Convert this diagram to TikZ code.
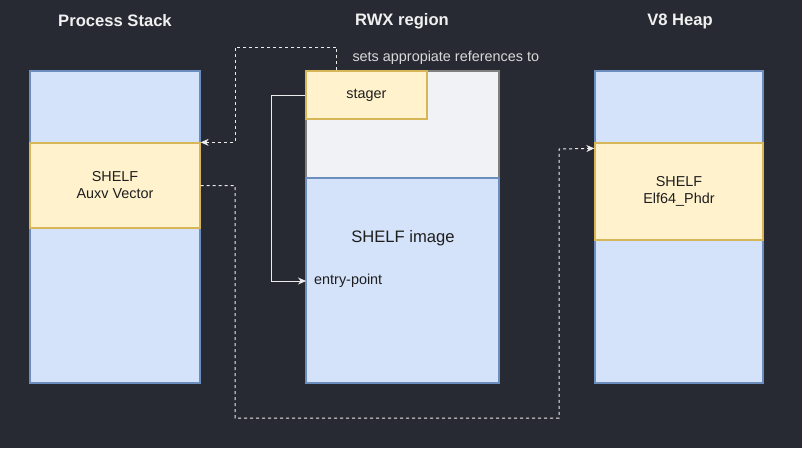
\documentclass[tikz,border=0pt]{standalone}
\usepackage{fontspec}
\setmainfont{Liberation Sans}
\usetikzlibrary{positioning,arrows.meta}
\definecolor{bg}{RGB}{39,42,51}
\definecolor{cellblue}{RGB}{212,227,249}
\definecolor{edgeblue}{RGB}{108,142,191}
\definecolor{cellyellow}{RGB}{255,242,204}
\definecolor{edgeyellow}{RGB}{214,182,86}
\definecolor{cellgrey}{RGB}{240,242,245}
\definecolor{edgegrey}{RGB}{128,128,128}
\definecolor{linkwhite}{RGB}{236,236,236}
\definecolor{inktext}{RGB}{30,30,30}
\tikzset{>={Stealth[length=8pt,width=7pt]},
  stackcell/.style={draw=edgeblue,fill=cellblue,line width=1.3pt,inner sep=0pt},
  rwxcell/.style={draw=edgegrey,fill=cellgrey,line width=1.3pt,inner sep=0pt},
  hdrcell/.style={draw=edgeyellow,fill=cellyellow,line width=1.3pt,inner sep=0pt,
    align=center,text=inktext,font=\fontsize{14.4}{17}\selectfont},
  boxtext/.style={text=inktext,font=\fontsize{14.4}{17}\selectfont},
  coltitle/.style={text=white!94!black,font=\fontsize{16.6}{19}\selectfont\bfseries},
  note/.style={text=white!85!black,font=\fontsize{14.4}{17}\selectfont},
  link/.style={draw=linkwhite,line width=1pt,->},
  dashlink/.style={link,dash pattern=on 3pt off 3pt}}
\begin{document}
\begin{tikzpicture}[x=1pt,y=-1pt]
\fill[bg] (0,0) rectangle (802,448);
\useasboundingbox (0,0) rectangle (802,448);
\node[coltitle] (stacktitle) at (115,21) {Process Stack};
\node[coltitle] (rwxtitle) at (402,21) {RWX region};
\node[coltitle] (heaptitle) at (680,21) {V8 Heap};
\node[stackcell,minimum width=170,minimum height=312] (stack) at (115,227) {};
\node[hdrcell,minimum width=170,minimum height=85] (auxv) at (115,185.5) {SHELF\\Auxv Vector};
\node[rwxcell,minimum width=193,minimum height=107] (loader) at (402.5,124.5) {};
\node[stackcell,minimum width=193,minimum height=205] (image) at (402.5,280.5) {};
\node[hdrcell,minimum width=121,minimum height=48] (stager) at (366.5,95) {stager};
\node[boxtext,font=\fontsize{16.6}{19}\selectfont] (imagetext) at (403,238) {SHELF image};
\node[boxtext,anchor=west,inner xsep=8pt] (entry) at (306,281) {entry-point};
\node[stackcell,minimum width=168,minimum height=312] (heap) at (679,227) {};
\node[hdrcell,minimum width=168,minimum height=97] (phdr) at (679,191.5) {SHELF\\Elf64\_Phdr};
\node[note,anchor=west] (refnote) at (349,58) {sets appropiate references to};
\coordinate (hop1) at (235,47);
\coordinate (hop2) at (235,418);
\coordinate (hop3) at (559,149);
\coordinate (hop4) at (271,95);
\draw[dashlink] ([xshift=-30pt]stager.north) |- (hop1) |- (auxv.north east);
\draw[dashlink] (auxv.east) -| (hop2) -| (hop3) -- ([yshift=-6pt]phdr.north west);
\draw[link] (stager.west) -- (hop4) |- (entry.west);
\end{tikzpicture}
\end{document}
